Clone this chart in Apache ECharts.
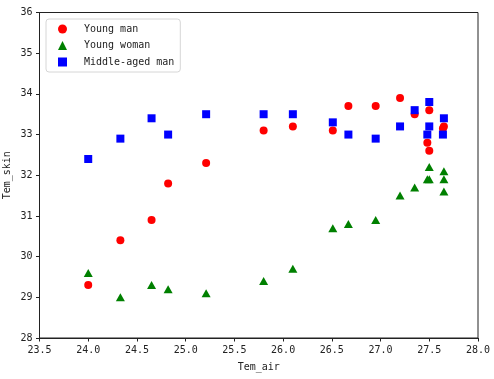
<!DOCTYPE html>
<html><head><meta charset="utf-8">
<script src="https://cdn.jsdelivr.net/npm/echarts@6/dist/echarts.min.js"></script>
<style>html,body{margin:0;padding:0;background:#fff}#c{width:494px;height:379px}</style>
</head><body><div id="c"></div>
<script>
var seriesNames = ['Young man', 'Young woman', 'Middle-aged man'];
var xTicks = [23.5, 24.0, 24.5, 25.0, 25.5, 26.0, 26.5, 27.0, 27.5, 28.0];
var yTicks = [28, 29, 30, 31, 32, 33, 34, 35, 36];
var youngManX = [24.0, 24.33, 24.65, 24.82, 25.21, 25.8, 26.1, 26.51, 26.67, 26.95, 27.2, 27.35, 27.5, 27.48, 27.5, 27.65, 27.64];
var youngManY = [29.3, 30.4, 30.9, 31.8, 32.3, 33.1, 33.2, 33.1, 33.7, 33.7, 33.9, 33.5, 33.6, 32.8, 32.6, 33.2, 33.15];
var youngWomanX = [24.0, 24.33, 24.65, 24.82, 25.21, 25.8, 26.1, 26.51, 26.67, 26.95, 27.2, 27.35, 27.5, 27.48, 27.5, 27.65, 27.65, 27.65];
var youngWomanY = [29.6, 29.0, 29.3, 29.2, 29.1, 29.4, 29.7, 30.7, 30.8, 30.9, 31.5, 31.7, 32.2, 31.9, 31.9, 32.1, 31.9, 31.6];
var middleManX = [24.0, 24.33, 24.65, 24.82, 25.21, 25.8, 26.1, 26.51, 26.67, 26.95, 27.2, 27.35, 27.5, 27.5, 27.48, 27.65, 27.64];
var middleManY = [32.4, 32.9, 33.4, 33.0, 33.5, 33.5, 33.5, 33.3, 33.0, 32.9, 33.2, 33.6, 33.8, 33.2, 33.0, 33.4, 33.0];

function pairs(xs, ys) { return xs.map(function (x, i) { return [x, ys[i]]; }); }

var FONT = 'DejaVu Sans Mono';
var chart = echarts.init(document.getElementById('c'), null, { renderer: 'canvas' });
chart.setOption({
  animation: false,
  backgroundColor: '#fff',
  textStyle: { fontFamily: FONT },
  grid: { left: 39.5, right: 16, top: 12.5, bottom: 41, containLabel: false, outerBoundsMode: 'none', show: true, borderColor: '#222', borderWidth: 1, backgroundColor: 'transparent' },
  legend: {
    orient: 'vertical', left: 46, top: 19,
    data: [
      { name: seriesNames[0], icon: 'circle' },
      { name: seriesNames[1], icon: 'triangle' },
      { name: seriesNames[2], icon: 'rect' }
    ],
    itemWidth: 9, itemHeight: 9, itemGap: 6.5,
    padding: [5, 6, 5, 12],
    backgroundColor: '#fff', borderColor: '#d6d6d6', borderWidth: 1, borderRadius: 3,
    textStyle: { fontFamily: FONT, fontSize: 10, color: '#222', padding: [0, 0, 0, 12] }
  },
  xAxis: {
    type: 'value', min: xTicks[0], max: xTicks[xTicks.length - 1], interval: 0.5,
    name: 'Tem_air', nameLocation: 'middle', nameGap: 24, nameMoveOverlap: false,
    nameTextStyle: { fontFamily: FONT, fontSize: 10, color: '#222' },
    axisLine: { show: true, lineStyle: { color: '#222', width: 1 } },
    axisTick: { show: true, inside: false, length: 3.5, lineStyle: { color: '#222' } },
    axisLabel: { fontFamily: FONT, fontSize: 10, color: '#222', margin: 7, formatter: function (v) { return v.toFixed(1); } },
    splitLine: { show: false }
  },
  yAxis: {
    type: 'value', min: yTicks[0], max: yTicks[yTicks.length - 1], interval: 1,
    name: 'Tem_skin', nameLocation: 'middle', nameGap: 27, nameRotate: 90, nameMoveOverlap: false,
    nameTextStyle: { fontFamily: FONT, fontSize: 10, color: '#222' },
    axisLine: { show: true, lineStyle: { color: '#222', width: 1 } },
    axisTick: { show: true, inside: false, length: 3.5, lineStyle: { color: '#222' } },
    axisLabel: { fontFamily: FONT, fontSize: 10, color: '#222', margin: 7 },
    splitLine: { show: false }
  },
  series: [
    { name: seriesNames[0], type: 'scatter', symbol: 'circle', symbolSize: 8, itemStyle: { color: '#ff0000', opacity: 1 }, data: pairs(youngManX, youngManY) },
    { name: seriesNames[1], type: 'scatter', symbol: 'triangle', symbolSize: [9, 8], itemStyle: { color: '#008000', opacity: 1 }, data: pairs(youngWomanX, youngWomanY) },
    { name: seriesNames[2], type: 'scatter', symbol: 'rect', symbolSize: 8, itemStyle: { color: '#0000ff', opacity: 1 }, data: pairs(middleManX, middleManY) }
  ]
});
</script></body></html>
